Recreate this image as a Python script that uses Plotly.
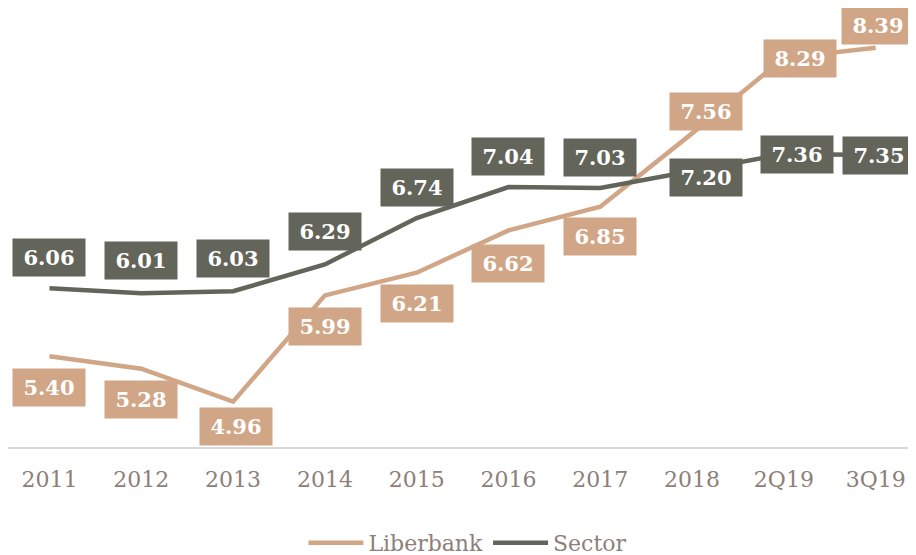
import plotly.graph_objects as go

categories = ["2011", "2012", "2013", "2014", "2015", "2016", "2017", "2018", "2Q19", "3Q19"]
liberbank = [5.40, 5.28, 4.96, 5.99, 6.21, 6.62, 6.85, 7.56, 8.29, 8.39]
sector = [6.06, 6.01, 6.03, 6.29, 6.74, 7.04, 7.03, 7.20, 7.36, 7.35]

# label offsets (pixels) as in the reference
lib_shift = [(0, -31), (0, -31), (3, -25), (0, -31), (0, -31), (0, -33), (0, -30), (14, 22), (16, 0), (2, 22)]
sec_shift = [(0, 31), (0, 33), (0, 33), (0, 33), (0, 31), (0, 31), (0, 31), (14, -7), (13, 0), (3, 0)]

C_LIB = "#D0A687"
C_SEC = "#63655A"
C_TXT = "#8C8079"
FONT = "DejaVu Serif"

fig = go.Figure()
fig.add_trace(go.Scatter(x=categories, y=liberbank, mode="lines", name="Liberbank",
                         line=dict(color=C_LIB, width=4.5)))
fig.add_trace(go.Scatter(x=categories, y=sector, mode="lines", name="Sector",
                         line=dict(color=C_SEC, width=4.5)))

annotations = []
for vals, shifts, col in [(sector, sec_shift, C_SEC), (liberbank, lib_shift, C_LIB)]:
    for i, (v, (dx, dy)) in enumerate(zip(vals, shifts)):
        annotations.append(dict(
            x=i, y=v, xref="x", yref="y", text=f"<b>{v:.2f}</b>", showarrow=False,
            xshift=dx, yshift=dy, bgcolor=col, width=70, height=35, borderpad=1,
            font=dict(family=FONT, size=21, color="white"),
        ))

fig.update_layout(
    width=900, height=547,
    margin=dict(l=0, r=0, t=0, b=108, autoexpand=False),
    paper_bgcolor="white", plot_bgcolor="white",
    showlegend=True,
    legend=dict(orientation="h", x=0.511, xanchor="center", y=-0.2187, yanchor="middle",
                font=dict(family=FONT, size=22, color=C_TXT), itemwidth=55),
    annotations=annotations,
    xaxis=dict(type="category", range=[-0.452, 9.352], showgrid=False, zeroline=False,
               showline=True, linecolor="#D9D9D9", linewidth=2, automargin=False,
               tickfont=dict(family=FONT, size=22, color=C_TXT), ticks="", ticklabelstandoff=12),
    yaxis=dict(range=[4.521, 8.775], visible=False, showgrid=False, zeroline=False),
)

fig.write_html("out.html")
